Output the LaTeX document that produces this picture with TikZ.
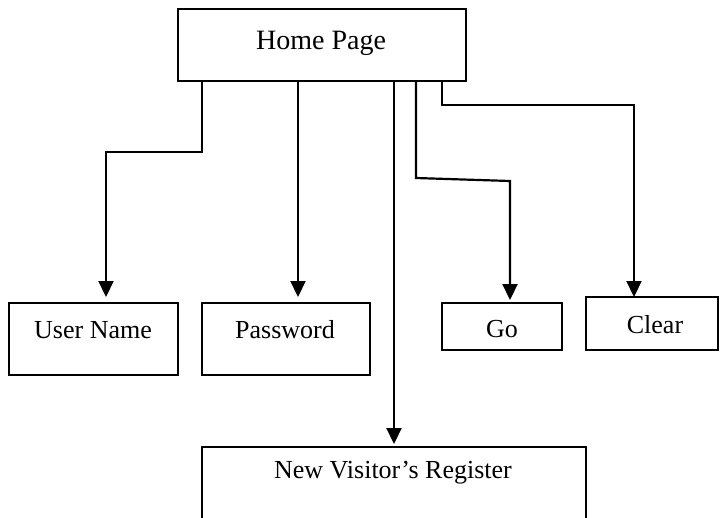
\documentclass[tikz,border=0pt]{standalone}
\usepackage{fontspec}
\setmainfont{Liberation Serif}
\usetikzlibrary{arrows.meta}
\begin{document}
\begin{tikzpicture}[x=1pt,y=-1pt,
  box/.style={draw, line width=2pt, rectangle, anchor=north west, inner sep=0pt, outer sep=0pt},
  lbl/.style={anchor=base, inner sep=0pt, font=\fontsize{26}{30}\selectfont},
  conn/.style={line width=2.2pt, -{Triangle[length=16pt,width=15pt]}}]
\useasboundingbox (0,0) rectangle (720,517);
\clip (0,0) rectangle (720,517);
% boxes
\node[box, minimum width=288pt, minimum height=72pt] (home) at (178,9) {};
\node[box, minimum width=169pt, minimum height=72pt] (user) at (9,303) {};
\node[box, minimum width=168pt, minimum height=72pt] (pass) at (202,303) {};
\node[box, minimum width=120pt, minimum height=47pt] (go) at (442,303) {};
\node[box, minimum width=132pt, minimum height=53pt] (clear) at (586,297) {};
\node[box, minimum width=384pt, minimum height=90pt] (newv) at (202,447) {};
% labels
\node[lbl, font=\fontsize{28}{32}\selectfont] (homet) at (321,49) {Home Page};
\node[lbl] (usert) at (93,338) {User Name};
\node[lbl] (passt) at (285,338) {Password};
\node[lbl] (got) at (502,337) {Go};
\node[lbl] (cleart) at (655,333) {Clear};
\node[lbl] (newvt) at (393,478) {New Visitor’s Register};
% connectors
\coordinate (u1) at ([xshift=24pt]home.south west);
\coordinate (p1) at ([xshift=120pt]home.south west);
\coordinate (n1) at ([xshift=216pt]home.south west);
\coordinate (g1) at ([xshift=238pt]home.south west);
\coordinate (c1) at ([xshift=264pt]home.south west);
\draw[conn, shorten >=6pt] (u1) -- (202,152) -- (106,152) -- (user.north -| 106,0);
\draw[conn, shorten >=6pt] (p1) -- (pass.north -| p1);
\draw[conn, shorten >=3pt] (n1) -- (newv.north -| n1);
\draw[conn, shorten >=3pt] (g1) -- (416,178) -- (510,181) -- (go.north -| 510,0);
\draw[conn] (c1) -- (442,105) -- (634,105) -- (clear.north -| 634,0);
\end{tikzpicture}
\end{document}
